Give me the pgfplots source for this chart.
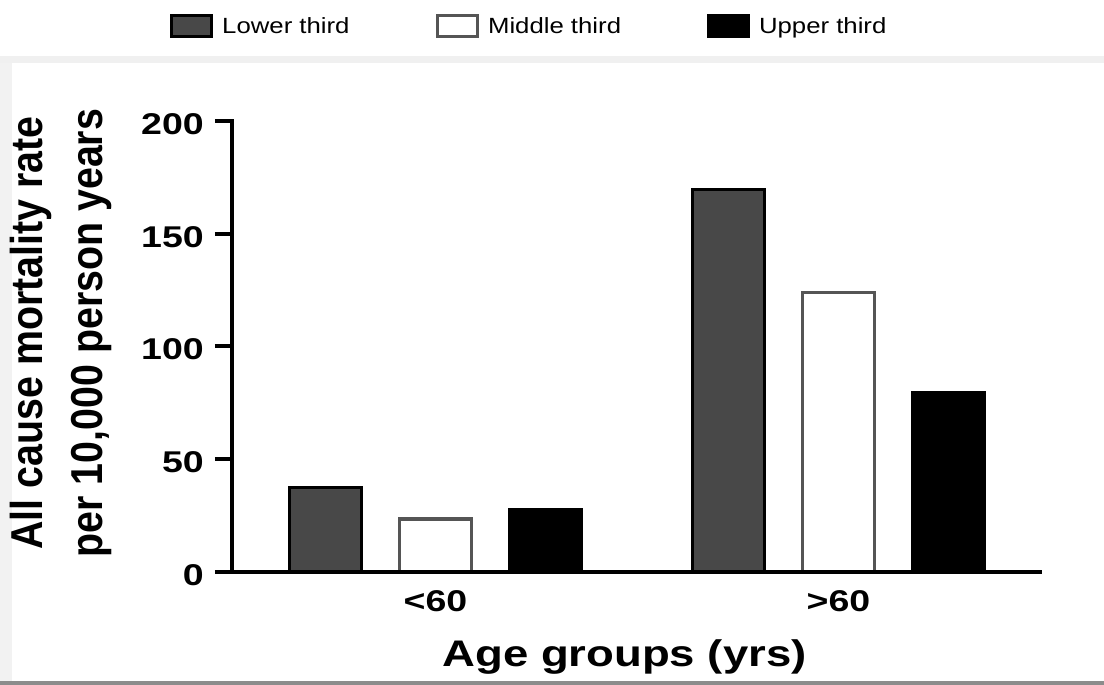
\documentclass[border=0pt]{standalone}
\usepackage{fontspec}
\setmainfont{Liberation Sans}
\newfontface\tickfnt[FakeStretch=1.25]{Liberation Sans Bold}
\newfontface\xlabfnt[FakeStretch=1.23]{Liberation Sans Bold}
\newfontface\ylabfnt[FakeStretch=0.88]{Liberation Sans Bold}
\newfontface\legfnt[FakeStretch=1.17]{Liberation Sans}
\usepackage{pgfplots}
\pgfplotsset{compat=1.18}
\definecolor{lowbar}{HTML}{484848}
\definecolor{midedge}{HTML}{555555}

\begin{document}
\begin{tikzpicture}
\path[use as bounding box] (0,0) rectangle (1104bp,685bp);
% light frame of the screenshot
\fill[black!6] (0,622bp) rectangle (1104bp,629bp);
\fill[black!5] (0,4bp) rectangle (12bp,622bp);
\fill[black!45] (0,0) rectangle (1104bp,4bp);
\begin{axis}[
    at={(232bp,113bp)}, anchor=south west,
    scale only axis, width=808bp, height=451bp,
    xmin=-0.505, xmax=1.5, ymin=0, ymax=200,
    clip=false, axis on top,
    axis x line*=bottom, axis y line*=left,
    axis line style={line width=4bp, black, -, line cap=rect},
    xtick={0,1}, xticklabels={\textless 60,\textgreater 60},
    x tick style={draw=none},
    ytick={0,50,100,150,200}, yticklabels={0,50,100,150,200},
    y tick style={line width=4bp, black},
    tick align=outside, major tick length=17bp,
    yticklabel style={font=\tickfnt\fontsize{30bp}{36bp}\selectfont, anchor=east, inner sep=0pt, xshift=-11bp, yshift=-3bp},
    xticklabel style={font=\tickfnt\fontsize{30bp}{36bp}\selectfont, anchor=base, inner sep=0pt, yshift=-22bp},
    xlabel={Age groups (yrs)},
    every axis x label/.style={at={(axis description cs:0.4858,-0.2106)}, anchor=base, inner sep=0pt,
        font=\xlabfnt\fontsize{37bp}{44bp}\selectfont},
    ylabel={All cause mortality rate\\per 10,000 person years},
    every axis y label/.style={at={(axis description cs:-0.149,0.53)}, rotate=90, anchor=south, inner sep=0pt,
        align=center, font=\ylabfnt\fontsize{44.7bp}{60bp}\selectfont},
    ybar=38bp, bar width=72bp,
    legend style={at={(axis description cs:0.368,1.2106)}, anchor=center, draw=none, fill=none,
        font=\legfnt\fontsize{22bp}{26bp}\selectfont,
        /tikz/every even column/.append style={column sep=84bp}},
    legend columns=3,
    legend image code/.code={\draw[#1] (0bp,-10.5bp) rectangle (40bp,10.5bp); \path (47bp,0bp);},
]
\addplot[fill=lowbar, draw=black, line width=3bp] coordinates {(0,37.5) (1,169.5)};
\addplot[fill=white, draw=midedge, line width=3.5bp] coordinates {(0,23.5) (1,124)};
\addplot[fill=black, draw=black, line width=3bp] coordinates {(0,27.5) (1,79.5)};
\legend{Lower third, Middle third, Upper third}
\end{axis}
\end{tikzpicture}
\end{document}
